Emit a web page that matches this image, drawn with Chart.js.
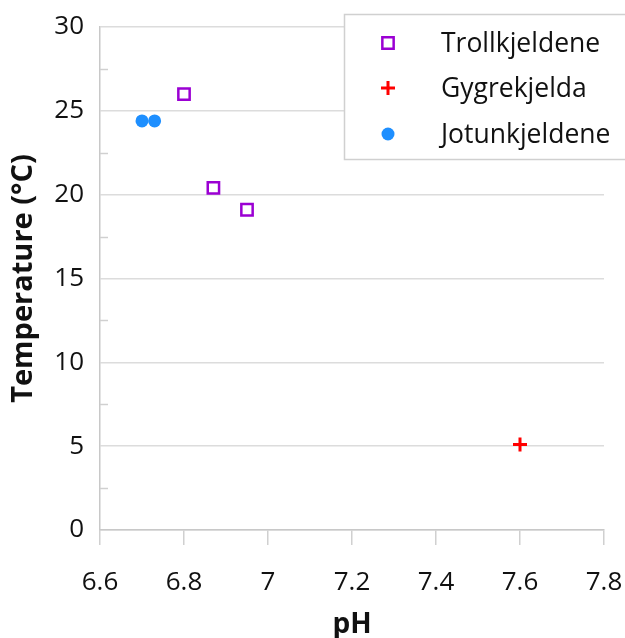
<!DOCTYPE html>
<html>
<head>
<meta charset="utf-8">
<script src="https://cdn.jsdelivr.net/npm/chart.js@4.4.1/dist/chart.umd.min.js"></script>
<style>
    html, body { margin: 0; padding: 0; background: #fff; }
    #wrap { width: 625px; height: 638px; position: relative; }
</style>
</head>
<body>
<div id="wrap"><canvas id="phChart"></canvas></div>
<script>
// --- Data ---
const trollPH = [6.80, 6.87, 6.95];
const trollTemp = [26.0, 20.4, 19.1];
const gygrePH = [7.6];
const gygreTemp = [5.1];
const jotunPH = [6.70, 6.73];
const jotunTemp = [24.4, 24.4];

const seriesNames = ["Trollkjeldene", "Gygrekjelda", "Jotunkjeldene"];
const xTicks = [6.6, 6.8, 7.0, 7.2, 7.4, 7.6, 7.8];
const yTicks = [0, 5, 10, 15, 20, 25, 30];
const yMinorTicks = [2.5, 7.5, 12.5, 17.5, 22.5, 27.5];

const FONT = "'Open Sans', 'DejaVu Sans', sans-serif";

function toPoints(xs, ys) {
    return xs.map((x, i) => ({ x: x, y: ys[i] }));
}

// --- minor ticks on the y axis (inside the plot) ---
const minorTickPlugin = {
    id: 'minorTicks',
    afterDraw(chart) {
        const ctx = chart.ctx;
        const y = chart.scales.y;
        const left = chart.chartArea.left;
        ctx.save();
        ctx.strokeStyle = '#d0d0d0';
        ctx.lineWidth = 1.5;
        yMinorTicks.forEach(v => {
            const py = Math.round(y.getPixelForValue(v)) + 0.5;
            ctx.beginPath();
            ctx.moveTo(left, py);
            ctx.lineTo(left + 8, py);
            ctx.stroke();
        });
        ctx.restore();
    }
};

// --- boxed legend drawn over the plot ---
const boxLegendPlugin = {
    id: 'boxLegend',
    afterDraw(chart) {
        const ctx = chart.ctx;
        ctx.save();
        ctx.fillStyle = '#ffffff';
        ctx.strokeStyle = '#d0d0d0';
        ctx.lineWidth = 1.5;
        ctx.fillRect(344, 14, 300, 145);
        ctx.strokeRect(344.5, 14.5, 300, 145);

        const rows = [43, 88, 134];
        const mx = 388;
        chart.data.datasets.forEach((ds, i) => {
            const cy = rows[i];
            const r = ds.pointRadius;
            ctx.fillStyle = ds.backgroundColor;
            ctx.strokeStyle = ds.borderColor;
            ctx.lineWidth = ds.borderWidth;
            ctx.beginPath();
            if (ds.pointStyle === 'circle') {
                ctx.arc(mx, cy, r, 0, Math.PI * 2);
                ctx.fill();
            } else if (ds.pointStyle === 'rect') {
                const s = r * Math.SQRT1_2;
                ctx.rect(mx - s, cy - s, 2 * s, 2 * s);
                ctx.stroke();
            } else {
                ctx.moveTo(mx - r, cy);
                ctx.lineTo(mx + r, cy);
                ctx.moveTo(mx, cy - r);
                ctx.lineTo(mx, cy + r);
                ctx.stroke();
            }
            ctx.fillStyle = '#111111';
            ctx.font = '26.5px ' + FONT;
            ctx.textBaseline = 'middle';
            ctx.textAlign = 'left';
            ctx.fillText(ds.label, 441, cy + 1);
        });
        ctx.restore();
    }
};

new Chart(document.getElementById('phChart'), {
    type: 'scatter',
    data: {
        datasets: [
            {
                label: seriesNames[0],
                data: toPoints(trollPH, trollTemp),
                pointStyle: 'rect',
                pointRadius: 8,
                pointHoverRadius: 8,
                borderWidth: 2.5,
                borderColor: '#9b00d3',
                backgroundColor: 'rgba(255,255,255,0)'
            },
            {
                label: seriesNames[1],
                data: toPoints(gygrePH, gygreTemp),
                pointStyle: 'cross',
                pointRadius: 7,
                pointHoverRadius: 7,
                borderWidth: 3,
                borderColor: '#ff0000',
                backgroundColor: '#ff0000'
            },
            {
                label: seriesNames[2],
                data: toPoints(jotunPH, jotunTemp),
                pointStyle: 'circle',
                pointRadius: 6.5,
                pointHoverRadius: 6.5,
                borderWidth: 0,
                borderColor: '#1e8fff',
                backgroundColor: '#1e8fff'
            }
        ]
    },
    options: {
        responsive: true,
        maintainAspectRatio: false,
        animation: false,
        layout: { padding: { top: 27, right: 21, left: 6, bottom: 0 } },
        plugins: {
            legend: { display: false },
            tooltip: { enabled: false }
        },
        scales: {
            x: {
                type: 'linear',
                min: 6.6,
                max: 7.8,
                afterBuildTicks: (scale) => { scale.ticks = xTicks.map(v => ({ value: v })); },
                afterFit: (scale) => {
                    scale.height = 108;
                    scale.paddingLeft = 0;
                    scale.paddingRight = 0;
                },
                border: { color: '#c8c8c8', width: 1.5 },
                grid: {
                    drawOnChartArea: false,
                    drawTicks: true,
                    tickLength: 15,
                    color: '#d0d0d0',
                    lineWidth: 1.5
                },
                ticks: {
                    padding: 22,
                    color: '#111111',
                    font: { family: FONT, size: 26 },
                    callback: (v) => String(Math.round(v * 10) / 10)
                },
                title: {
                    display: true,
                    text: 'pH',
                    color: '#111111',
                    font: { family: FONT, size: 28, weight: 'bold' },
                    padding: { top: 0, bottom: -4 }
                }
            },
            y: {
                type: 'linear',
                min: 0,
                max: 30,
                afterBuildTicks: (scale) => { scale.ticks = yTicks.map(v => ({ value: v })); },
                afterFit: (scale) => {
                    scale.width = 94;
                    scale.paddingTop = 0;
                    scale.paddingBottom = 0;
                },
                border: { color: '#c8c8c8', width: 1.5 },
                grid: {
                    drawTicks: false,
                    color: '#dcdcdc',
                    lineWidth: 1.5
                },
                ticks: {
                    padding: 16,
                    color: '#111111',
                    font: { family: FONT, size: 26 }
                },
                title: {
                    display: true,
                    text: 'Temperature (°C)',
                    color: '#111111',
                    font: { family: FONT, size: 29, weight: 'bold' },
                    padding: { top: 0, bottom: 0 }
                }
            }
        }
    },
    plugins: [minorTickPlugin, boxLegendPlugin]
});
</script>
</body>
</html>
